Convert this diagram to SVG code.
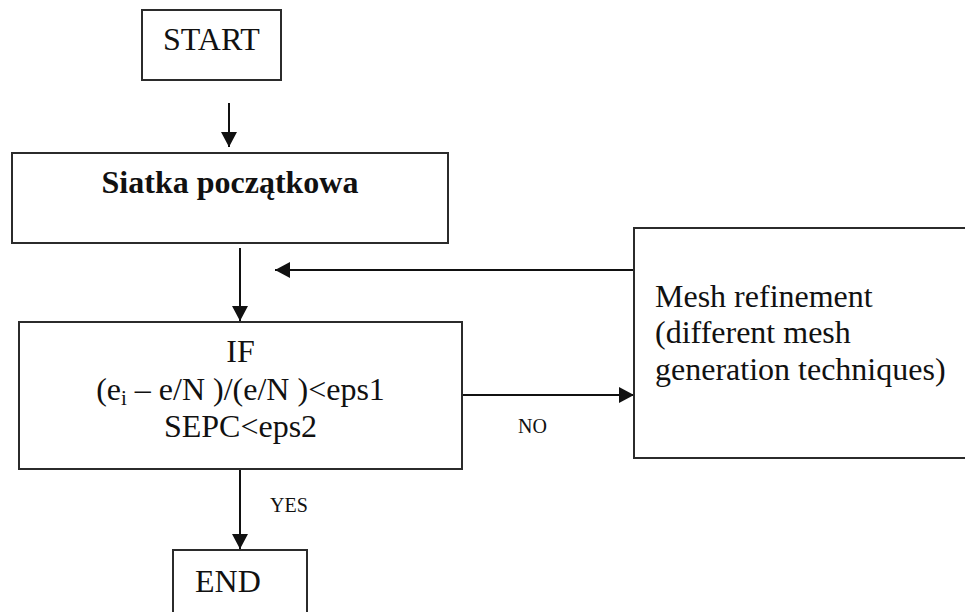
<svg xmlns="http://www.w3.org/2000/svg" width="965" height="612" viewBox="0 0 965 612">
<style>
  .box { fill: #ffffff; stroke: #2b2b2b; stroke-width: 2; }
  .conn { stroke: #111111; stroke-width: 2; fill: none; marker-end: url(#arrow); }
  .t { font-family: "Liberation Serif", "Times New Roman", serif; font-size: 32px; fill: #111111; }
  .b { font-weight: bold; }
  .s { font-family: "Liberation Serif", "Times New Roman", serif; font-size: 20px; fill: #111111; }
</style>
<defs>
  <marker id="arrow" viewBox="0 0 15 16" refX="15" refY="8" markerWidth="15" markerHeight="16" markerUnits="userSpaceOnUse" orient="auto">
    <path d="M0,0 L15,8 L0,16 z" fill="#111111"/>
  </marker>
</defs>
<rect width="965" height="612" fill="#ffffff"/>

<g id="connectors">
  <line class="conn" x1="229" y1="103" x2="229" y2="147"/>
  <line class="conn" x1="240" y1="248" x2="240" y2="321"/>
  <line class="conn" x1="637" y1="270" x2="275" y2="270"/>
  <line class="conn" x1="462" y1="395" x2="634" y2="395"/>
  <line class="conn" x1="240" y1="469" x2="240" y2="549"/>
  <text class="s" x="518" y="433">NO</text>
  <text class="s" x="270" y="512">YES</text>
</g>

<g id="start">
  <rect class="box" x="142" y="10" width="139" height="70"/>
  <text class="t" x="163" y="50">START</text>
</g>

<g id="siatka">
  <rect class="box" x="12" y="153" width="436" height="90"/>
  <text class="t b" x="230" y="193" text-anchor="middle">Siatka początkowa</text>
</g>

<g id="condition">
  <rect class="box" x="19" y="322" width="443" height="147"/>
  <text class="t" x="240.5" y="362" text-anchor="middle">IF</text>
  <text class="t" x="240.5" y="400" text-anchor="middle">(e<tspan font-size="21" dy="5">i</tspan><tspan dy="-5"> – e/N )/(e/N )&lt;eps1</tspan></text>
  <text class="t" x="240.5" y="437" text-anchor="middle">SEPC&lt;eps2</text>
</g>

<g id="refinement">
  <rect class="box" x="634" y="228" width="340" height="230"/>
  <text class="t" x="655" y="307">Mesh refinement</text>
  <text class="t" x="655" y="343">(different mesh</text>
  <text class="t" x="655" y="380">generation techniques)</text>
</g>

<g id="end">
  <rect class="box" x="173" y="550" width="134" height="80"/>
  <text class="t" x="195" y="592">END</text>
</g>
</svg>
